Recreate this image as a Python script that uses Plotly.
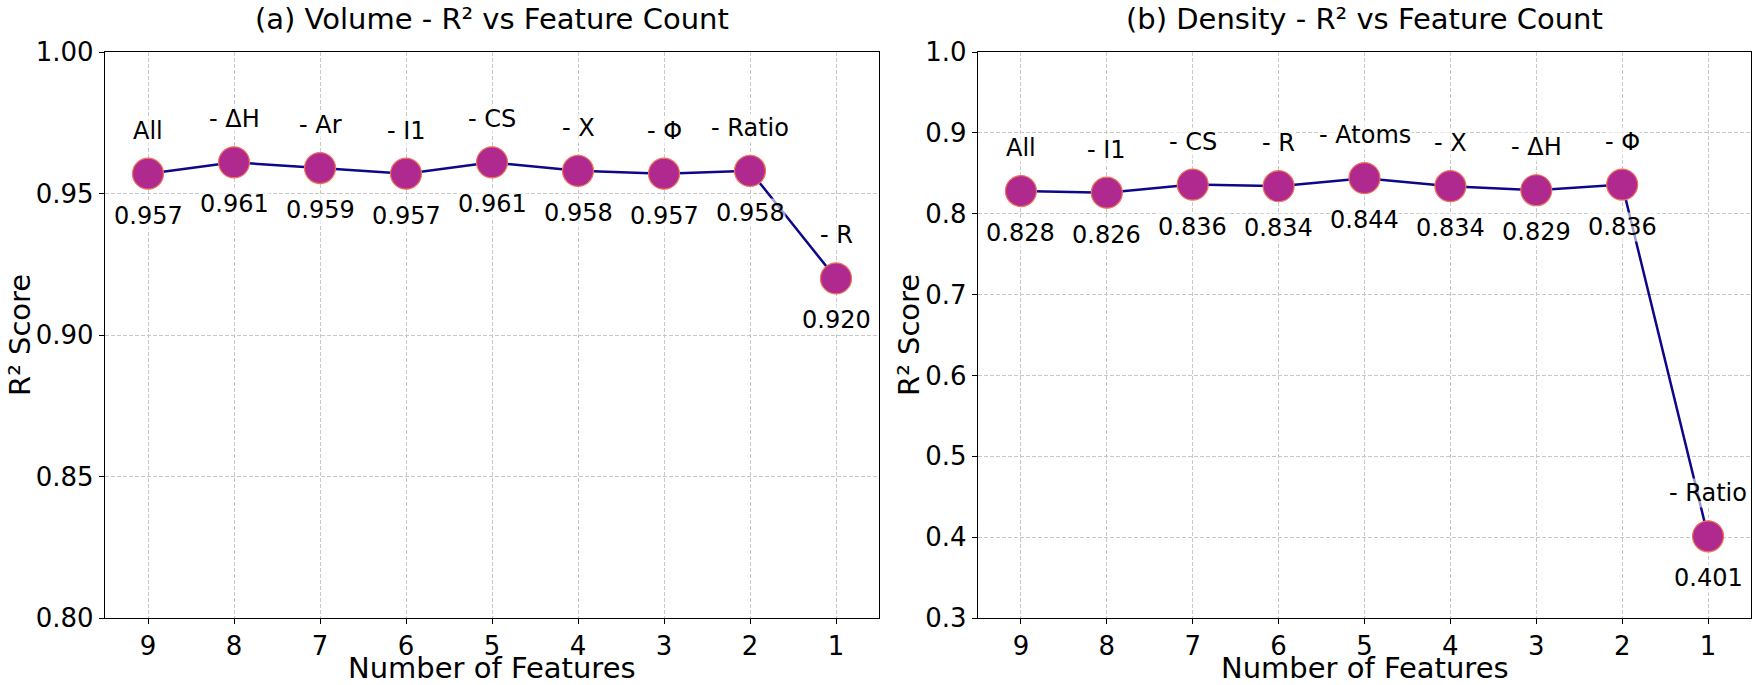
import plotly.graph_objects as go

counts = [9, 8, 7, 6, 5, 4, 3, 2, 1]

vol_r2 = [0.957, 0.961, 0.959, 0.957, 0.961, 0.958, 0.957, 0.958, 0.920]
vol_names = ["All", "- ΔH", "- Ar", "- I1", "- CS", "- X", "- Φ", "- Ratio", "- R"]

den_r2 = [0.828, 0.826, 0.836, 0.834, 0.844, 0.834, 0.829, 0.836, 0.401]
den_names = ["All", "- I1", "- CS", "- R", "- Atoms", "- X", "- ΔH", "- Φ", "- Ratio"]

vol_yticks = [0.80, 0.85, 0.90, 0.95, 1.00]
den_yticks = [0.3, 0.4, 0.5, 0.6, 0.7, 0.8, 0.9, 1.0]

titles = ["(a) Volume - R² vs Feature Count", "(b) Density - R² vs Feature Count"]

W, H = 1755, 685
FONT = "DejaVu Sans"
LINE = "#0d0887"
FILL = "#b0298f"
EDGE = "#f07458"

fig = go.Figure()

panels = [
    dict(vals=vol_r2, names=vol_names, yt=vol_yticks, yr=[0.80, 1.00], fmt="%.2f",
         dom=[105 / W, 879 / W], xa="x", ya="y", ylab_x=20 / W),
    dict(vals=den_r2, names=den_names, yt=den_yticks, yr=[0.3, 1.0], fmt="%.1f",
         dom=[978 / W, 1751 / W], xa="x2", ya="y2", ylab_x=909 / W),
]
ydom = [1 - 618 / H, 1 - 52 / H]

layout = dict(
    width=W, height=H,
    margin=dict(l=0, r=0, t=0, b=0),
    paper_bgcolor="white", plot_bgcolor="white",
    showlegend=False,
    font=dict(family=FONT, size=22, color="black"),
)
annotations = []

for i, p in enumerate(panels):
    fig.add_trace(go.Scatter(
        x=counts, y=p["vals"], mode="lines+markers",
        line=dict(color=LINE, width=2.5),
        marker=dict(size=31, color=FILL, line=dict(color=EDGE, width=1.2)),
        xaxis=p["xa"], yaxis=p["ya"], hoverinfo="skip",
    ))
    for c, v, n in zip(counts, p["vals"], p["names"]):
        annotations.append(dict(
            x=c, y=v, xref=p["xa"], yref=p["ya"], text=f"{v:.3f}",
            showarrow=False, yshift=-42, font=dict(size=24, family=FONT),
            bgcolor="rgba(255,255,255,0.6)", borderpad=0,
        ))
        annotations.append(dict(
            x=c, y=v, xref=p["xa"], yref=p["ya"], text=n,
            showarrow=False, yshift=43, font=dict(size=24, family=FONT),
            bgcolor="rgba(255,255,255,0.6)", borderpad=0,
        ))
    cx = (p["dom"][0] + p["dom"][1]) / 2
    annotations.append(dict(
        x=cx, y=1 - 19 / H, xref="paper", yref="paper",
        text=titles[i], showarrow=False, xanchor="center", yanchor="middle",
        font=dict(size=29, family=FONT),
    ))
    annotations.append(dict(
        x=cx, y=1 - 668 / H, xref="paper", yref="paper",
        text="Number of Features", showarrow=False, xanchor="center", yanchor="middle",
        font=dict(size=29, family=FONT),
    ))
    annotations.append(dict(
        x=p["ylab_x"], y=(ydom[0] + ydom[1]) / 2, xref="paper", yref="paper",
        text="R² Score", showarrow=False, xanchor="center", yanchor="middle",
        textangle=-90, font=dict(size=29, family=FONT),
    ))
    ax_common = dict(
        showline=True, linecolor="black", linewidth=1.3, mirror=True,
        ticks="outside", ticklen=5, tickwidth=1.2, tickcolor="black",
        showgrid=True, gridcolor="#c8c8c8", griddash="4px,2px", gridwidth=1,
        zeroline=False, tickfont=dict(size=26, family=FONT), automargin=False,
    )
    xkey = "xaxis" if i == 0 else "xaxis2"
    ykey = "yaxis" if i == 0 else "yaxis2"
    layout[xkey] = dict(
        ax_common, domain=p["dom"], range=[9.5, 0.5], tickvals=counts,
        ticktext=[str(c) for c in counts], anchor=p["ya"],
    )
    layout[ykey] = dict(
        ax_common, domain=ydom, range=p["yr"], tickvals=p["yt"],
        ticktext=[p["fmt"] % t for t in p["yt"]], anchor=p["xa"],
    )

layout["annotations"] = annotations
fig.update_layout(**layout)
fig.write_html("out.html", config={"displayModeBar": False},
               post_script="document.body.style.margin='0';")
